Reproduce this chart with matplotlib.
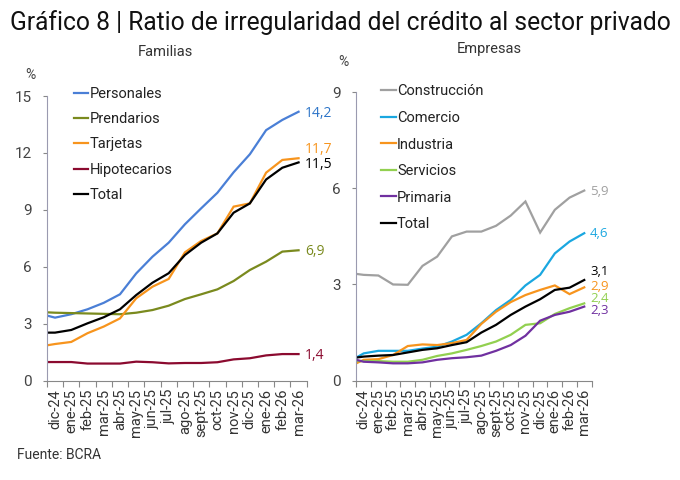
import matplotlib
matplotlib.use("Agg")
import matplotlib.pyplot as plt
import numpy as np

plt.rcParams['font.family'] = ['Roboto', 'DejaVu Sans']

months = ["dic-24", "ene-25", "feb-25", "mar-25", "abr-25", "may-25", "jun-25", "jul-25",
          "ago-25", "sept-25", "oct-25", "nov-25", "dic-25", "ene-26", "feb-26", "mar-26"]

# Familias (first value = start of series at left edge of axis)
personales   = [3.43, 3.32, 3.50, 3.76, 4.10, 4.55, 5.65, 6.53, 7.27, 8.24, 9.08, 9.90, 10.98, 11.93, 13.20, 13.74, 14.17]
prendarios   = [3.60, 3.58, 3.56, 3.54, 3.52, 3.50, 3.58, 3.72, 3.95, 4.30, 4.55, 4.81, 5.25, 5.83, 6.27, 6.80, 6.87]
tarjetas     = [1.86, 1.93, 2.04, 2.50, 2.85, 3.28, 4.34, 4.95, 5.36, 6.76, 7.36, 7.76, 9.17, 9.34, 10.96, 11.63, 11.72]
hipotecarios = [0.98, 0.98, 0.98, 0.90, 0.90, 0.90, 1.00, 0.97, 0.91, 0.93, 0.93, 0.97, 1.12, 1.18, 1.33, 1.40, 1.40]
total_fam    = [2.53, 2.53, 2.67, 3.02, 3.34, 3.76, 4.51, 5.16, 5.66, 6.62, 7.27, 7.76, 8.85, 9.34, 10.60, 11.22, 11.50]

# Empresas
construccion = [3.33, 3.30, 3.28, 3.00, 2.99, 3.58, 3.87, 4.50, 4.65, 4.65, 4.83, 5.15, 5.59, 4.62, 5.33, 5.71, 5.93]
comercio     = [0.72, 0.85, 0.93, 0.93, 0.93, 1.00, 1.06, 1.22, 1.43, 1.79, 2.20, 2.52, 2.97, 3.30, 3.97, 4.34, 4.60]
industria    = [0.54, 0.65, 0.67, 0.80, 1.08, 1.13, 1.11, 1.17, 1.27, 1.77, 2.15, 2.45, 2.67, 2.83, 2.97, 2.70, 2.91]
servicios    = [0.61, 0.61, 0.61, 0.59, 0.59, 0.65, 0.77, 0.85, 0.96, 1.08, 1.22, 1.43, 1.74, 1.79, 2.08, 2.26, 2.41]
primaria     = [0.65, 0.59, 0.57, 0.54, 0.54, 0.57, 0.65, 0.70, 0.73, 0.78, 0.93, 1.11, 1.40, 1.87, 2.05, 2.15, 2.31]
total_emp    = [0.72, 0.75, 0.78, 0.80, 0.88, 0.96, 1.01, 1.11, 1.20, 1.50, 1.74, 2.05, 2.31, 2.54, 2.83, 2.90, 3.14]

fam_series = [("Personales", personales, "#4A7FD6", "14,2", "#2E75C8"),
              ("Prendarios", prendarios, "#7A8A1E", "6,9", "#7A8A1E"),
              ("Tarjetas", tarjetas, "#F7941D", "11,7", "#F7941D"),
              ("Hipotecarios", hipotecarios, "#8B0A2F", "1,4", "#8B0A2F"),
              ("Total", total_fam, "#000000", "11,5", "#000000")]
emp_series = [("Construcción", construccion, "#A0A0A0", "5,9", "#A0A0A0"),
              ("Comercio", comercio, "#1AA7E0", "4,6", "#1AA7E0"),
              ("Industria", industria, "#F7941D", "2,9", "#F7941D"),
              ("Servicios", servicios, "#92D050", "2,4", "#92D050"),
              ("Primaria", primaria, "#7030A0", "2,3", "#7030A0"),
              ("Total", total_emp, "#000000", "3,1", "#000000")]

x = np.r_[-0.5, np.arange(len(months))]

fig = plt.figure(figsize=(6.8, 4.8), dpi=100)
fig.text(0.014, 0.953, "Gráfico 8 | Ratio de irregularidad del crédito al sector privado",
         fontsize=17.7, color="#111111", va="center", ha="left")
fig.text(0.025, 0.052, "Fuente: BCRA", fontsize=10, color="#333333", va="center")

ax1 = fig.add_axes([0.069, 0.207, 0.382, 0.593])
ax2 = fig.add_axes([0.524, 0.207, 0.346, 0.601])

def style(ax, ymax, step, series, label_y, spacing, anchor_y, lab_fs):
    for name, vals, col, lab, lcol in series:
        ax.plot(x, vals, color=col, lw=1.6, label=name, solid_joinstyle="miter")
    for (name, vals, col, lab, lcol), ly in zip(series, label_y):
        ax.text(len(months) - 0.6, ly, lab, color=lcol, fontsize=lab_fs,
                va="center", ha="left", family=["Open Sans", "DejaVu Sans"])
    ax.set_xlim(-0.5, len(months) - 0.5)
    ax.set_ylim(0, ymax)
    ax.set_yticks(np.arange(0, ymax + 0.1, step))
    ax.set_xticks(np.arange(-0.5, len(months)), minor=False)
    ax.set_xticklabels([])
    ax.set_xticks(np.arange(len(months)), minor=True)
    ax.set_xticklabels(months, minor=True, rotation=90, fontsize=10.5, color="#333333")
    ax.tick_params(axis="x", which="major", length=4, color="#888888", direction="out")
    ax.tick_params(axis="x", which="minor", length=0, pad=6)
    ax.tick_params(axis="y", length=3, color="#888888", labelsize=11, labelcolor="#444444", pad=8)
    for s in ["top", "right"]:
        ax.spines[s].set_visible(False)
    ax.spines["left"].set_color("#9A9AB0")
    ax.spines["bottom"].set_color("#888888")
    leg = ax.legend(loc="upper left", bbox_to_anchor=(0.08, anchor_y), frameon=False, fontsize=10.5,
                    handlelength=1.0, handletextpad=0.1, labelspacing=spacing, borderaxespad=0)
    for t in leg.get_texts():
        t.set_color("#222222")

style(ax1, 15, 3, fam_series, [14.1, 6.83, 12.2, 1.35, 11.4], 0.77, 1.052, 10)
style(ax2, 9, 3, emp_series, [5.9, 4.58, 2.95, 2.57, 2.19, 3.42], 0.86, 1.047, 9.5)

fig.text(0.243, 0.892, "Familias", fontsize=10.5, color="#333333", ha="center", va="center")
fig.text(0.72, 0.897, "Empresas", fontsize=10.5, color="#333333", ha="center", va="center")
fig.text(0.045, 0.843, "%", fontsize=10, color="#444444", ha="center", va="center")
fig.text(0.505, 0.870, "%", fontsize=10, color="#444444", ha="center", va="center")

fig.savefig("out.png", dpi=100)
